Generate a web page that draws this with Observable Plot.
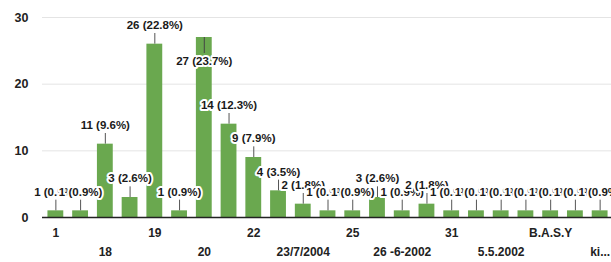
<!DOCTYPE html>
<html><head><meta charset="utf-8">
<script src="https://cdn.jsdelivr.net/npm/d3@7"></script>
<script src="https://cdn.jsdelivr.net/npm/@observablehq/plot@0.6"></script>
<style>body{margin:0;background:#fff} svg{display:block}</style>
</head><body><div id="chart"></div>
<script>
const categories = ["1","","18","","19","","20","","22","","23/7/2004","","25","","26 -6-2002","","31","","5.5.2002","","B.A.S.Y","","ki..."];
const counts = [1,1,11,3,26,1,27,14,9,4,2,1,1,3,1,2,1,1,1,1,1,1,1];
const yTicks = [0,10,20,30];

const total = d3.sum(counts);
const maxV = d3.max(counts);
const data = counts.map((v,i)=>({i, v, label: `${v} (${(v/total*100).toFixed(1)}%)`, inside: v === maxV}));
const above = data.filter(d=>!d.inside);
const inside = data.filter(d=>d.inside);
const idx = categories.map((c,i)=>i).filter(i=>categories[i] !== "");
const row1 = idx.filter(i=>i%4===0);
const row2 = idx.filter(i=>i%4!==0);

const chart = Plot.plot({
  width: 611, height: 262,
  marginLeft: 42, marginRight: -2, marginTop: 17, marginBottom: 45,
  style: {fontFamily: "'Liberation Sans', Arial, sans-serif", background: "#fff"},
  x: {type: "band", domain: d3.range(counts.length), paddingInner: 0.36, paddingOuter: 0.22, round: false},
  y: {domain: [0,30]},
  marks: [
    Plot.gridY(yTicks.filter(t=>t>0), {stroke: "#e4e4e4", strokeOpacity: 1}),
    Plot.axisY(yTicks, {tickSize: 0, tickPadding: 14, fontWeight: "bold", fontSize: 12.5, fill: "#222", label: null}),
    Plot.barY(data, {x: "i", y: "v", fill: "#6aa84f"}),
    Plot.ruleY([0], {stroke: "#222", strokeWidth: 1.5}),
    Plot.ruleX(above, {x: "i", y1: "v", y2: d=>d.v + 1.6, stroke: "#555", strokeWidth: 1}),
    Plot.ruleX(inside, {x: "i", y1: "v", y2: d=>d.v - 2.4, stroke: "#444", strokeWidth: 1}),
    Plot.text(above, {x: "i", y: "v", text: "label", dy: -19, fontWeight: "bold", fontSize: 11.5, fill: "#1a1a1a", stroke: "white", strokeWidth: 4}),
    Plot.text(inside, {x: "i", y: "v", text: "label", dy: 24, fontWeight: "bold", fontSize: 11.5, fill: "#1a1a1a", stroke: "white", strokeWidth: 4}),
    Plot.axisX(row1, {tickSize: 0, tickPadding: 11, tickFormat: i=>categories[i], fontWeight: "bold", fontSize: 12, fill: "#222", label: null}),
    Plot.axisX(row2, {tickSize: 0, tickPadding: 30, tickFormat: i=>categories[i], fontWeight: "bold", fontSize: 12, fill: "#222", label: null})
  ]
});
document.getElementById("chart").append(chart);
</script>
</body></html>
